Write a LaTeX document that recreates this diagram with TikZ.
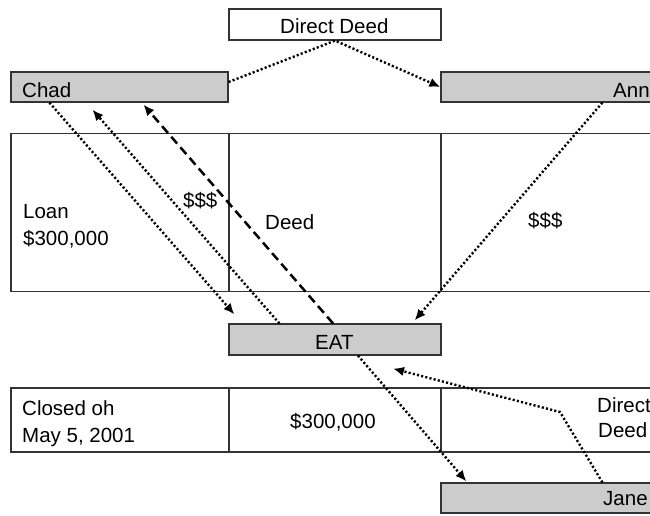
\documentclass[tikz,border=0pt]{standalone}
\usepackage{fontspec}
\setmainfont{Liberation Sans}
\usetikzlibrary{arrows.meta,calc}
\tikzset{
  frame/.style={draw=black!80, line width=1.2pt},
  graybox/.style={frame, fill=black!20, inner sep=0pt, rectangle},
  whitebox/.style={frame, fill=white, inner sep=0pt, rectangle},
  lbl/.style={inner sep=0pt, anchor=base west, font=\fontsize{20.5}{27}\selectfont},
  dotline/.style={black, line width=2.4pt, dash pattern=on 2.1pt off 2.2pt},
  dashline/.style={black, line width=2.5pt, dash pattern=on 9pt off 5pt},
  tip/.style={-{Latex[length=11pt,width=9.5pt]}}
}
\begin{document}
\begin{tikzpicture}[x=1pt,y=-1pt]
\useasboundingbox (0,0) rectangle (650,515);
\clip (0,0) rectangle (650,515);
% tables
\draw[frame] (11,133.5) rectangle (680,291.5);
\draw[frame] (229,133.5) -- (229,291.5) (441,133.5) -- (441,291.5);
\draw[frame] (11,388) rectangle (680,452);
\draw[frame] (229,388) -- (229,452) (441,388) -- (441,452);
% boxes
\node[whitebox, minimum width=212pt, minimum height=31pt] (dd) at (335,24.5) {};
\node[graybox, minimum width=217pt, minimum height=30pt] (chad) at (119.5,87) {};
\node[graybox, minimum width=239pt, minimum height=30pt] (ann) at (560.5,87) {};
\node[graybox, minimum width=212pt, minimum height=31pt] (eat) at (335,339.5) {};
\node[graybox, minimum width=239pt, minimum height=30pt] (jane) at (560.5,498) {};
% labels
\node[lbl] (tdd) at (280,33) {Direct Deed};
\node[lbl] (tchad) at (22,97) {Chad};
\node[lbl] (tann) at (613,97) {Ann};
\node[lbl] (tloan) at (23,218) {Loan};
\node[lbl] (tloanamt) at (23,245) {\$300,000};
\node[lbl] (tmoney1) at (183,207) {\$\$\$};
\node[lbl] (tdeed) at (265,229) {Deed};
\node[lbl] (tmoney2) at (528,227) {\$\$\$};
\node[lbl] (teat) at (315,349) {EAT};
\node[lbl] (tclosed) at (22,415) {Closed oh};
\node[lbl] (tdate) at (22,442) {May 5, 2001};
\node[lbl] (tamt) at (290,428) {\$300,000};
\node[lbl] (tdirect) at (597,412) {Direct};
\node[lbl] (tdeed2) at (598,437) {Deed};
\node[lbl] (tjane) at (603,505) {Jane};
% connectors
\draw[dotline, tip] ([yshift=5pt]chad.east) -- (dd.south) -- (ann.west);
\draw[dotline, tip] ([xshift=39pt]chad.south west) -- ([xshift=6pt,yshift=9pt]eat.north west);
\draw[dotline, tip] ([xshift=51pt]eat.north west) -- ([xshift=82pt,yshift=-7pt]chad.south west);
\draw[dashline, tip] ([xshift=-2pt]eat.north) -- ([xshift=133pt,yshift=-2pt]chad.south west);
\draw[dotline, tip] ([xshift=162pt]ann.south west) -- ([xshift=-27pt,yshift=3pt]eat.north east);
\draw[dotline, tip] ([xshift=23pt]eat.south) -- ([xshift=26pt,yshift=1pt]jane.north west);
\coordinate (bend) at (560,412);
\draw[dotline, tip] ([xshift=162pt]jane.north west) -- (bend) -- ([xshift=58pt,yshift=-13pt]eat.south);
\end{tikzpicture}
\end{document}
